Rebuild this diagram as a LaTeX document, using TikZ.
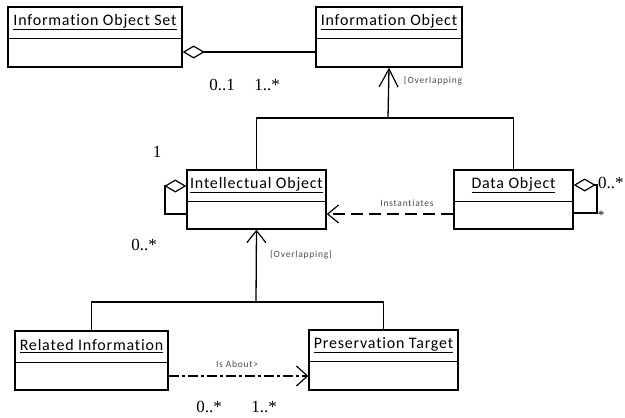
\documentclass[tikz,border=0pt]{standalone}
\usepackage{fontspec}
\setmainfont{Carlito}[Ligatures=NoCommon]
\newfontfamily\multfont{Liberation Serif}
\usetikzlibrary{arrows.meta,calc}

\begin{document}
\begin{tikzpicture}[x=1pt,y=-1pt,
		cls/.style={draw,line width=1.4pt,inner sep=0pt},
		ttl/.style={font=\fontsize{16}{18}\selectfont\addfontfeature{LetterSpace=5}},
		mult/.style={font=\multfont\fontsize{17}{19}\selectfont},
		small/.style={font=\fontsize{9.5}{11}\selectfont\addfontfeature{LetterSpace=8},text=black!70},
		conn/.style={line width=1.3pt},
		agg/.style={conn,-{Diamond[open,length=22pt,width=13pt,line width=1.2pt]}},
		gen/.style={conn,-{Straight Barb[length=#1,width=19pt,line width=1.2pt]}},
		gen/.default=14pt]
		\useasboundingbox (0,0) rectangle (625,418);
		% classes
		\foreach \n/\x/\y/\w/\h/\t in {ios/95/37/174/60/Information Object Set,
			io/389/37/146/60/Information Object,
			intel/256.5/199.5/139/59/Intellectual Object,
			data/513.5/199.5/119/59/Data Object,
			rel/91.5/360.5/153/59/Related Information,
			pres/383.5/360/149/60/Preservation Target}{
			\node[cls,minimum width=\w pt,minimum height=\h pt] (\n) at (\x,\y) {};
			\node[ttl] (\n-t) at ($(\n.north)+(0,16)$) {\underline{\t}};
			\draw[line width=1.4pt] ($(\n.north west)+(0,32)$) -- ($(\n.north east)+(0,32)$);
		}
		\coordinate (y52) at (0,52);
		\coordinate (j1) at (388,118);
		\coordinate (j2) at (256,302);
		\coordinate (y186) at (165,186);
		\coordinate (y214) at (0,214);
		\coordinate (y185) at (597,185);
		\coordinate (y213) at (0,213);
		\coordinate (y376) at (0,376);
		% aggregation
		\draw[agg] (io.west|-y52) -- (ios.east|-y52);
		\node[mult] (m1) at (222,85) {0..1};
		\node[mult] (m2) at (267,85) {1..*};
		% generalisations
		\draw[conn] (intel.north) |- (j1) -| (data.north);
		\draw[gen=18pt] (j1) -- (io.south);
		\node[small] (ov1) at (433,81) {\{Overlapping};
		\draw[conn] (rel.north) |- (j2) -| (pres.north);
		\draw[gen=12pt] (j2) -- (intel.south);
		\node[small] (ov2) at (301,255) {\{Overlapping\}};
		% self aggregations
		\draw[agg] (intel.west|-y214) -| (y186) -- (intel.west|-y186);
		\node[mult] (m3) at (157,152) {1};
		\node[mult] (m4) at (144,245) {0..*};
		\draw[agg] (data.east|-y213) -| (y185) -- (data.east|-y185);
		\node[mult,anchor=west,inner sep=0pt] (m5) at (598,183) {0..*};
		\node[mult,font=\multfont\fontsize{13}{15}\selectfont] (m6) at (601,215) {*};
		% dependencies
		\draw[line width=2.6pt,dash pattern=on 12pt off 6pt,-{Straight Barb[length=11pt,width=18pt,line width=1.2pt]}] (data.west|-y214) -- (intel.east|-y214);
		\node[small] (inst) at (407,203) {Instantiates};
		\draw[line width=2.2pt,dash pattern=on 10pt off 3pt on 3pt off 3pt,-{Straight Barb[length=11pt,width=20pt,line width=1.2pt]}] (rel.east|-y376) -- (pres.west|-y376);
		\node[small] (about) at (237,364) {Is About>};
		\node[mult] (m7) at (209,407) {0..*};
		\node[mult] (m8) at (264,407) {1..*};
	\end{tikzpicture}
\end{document}
